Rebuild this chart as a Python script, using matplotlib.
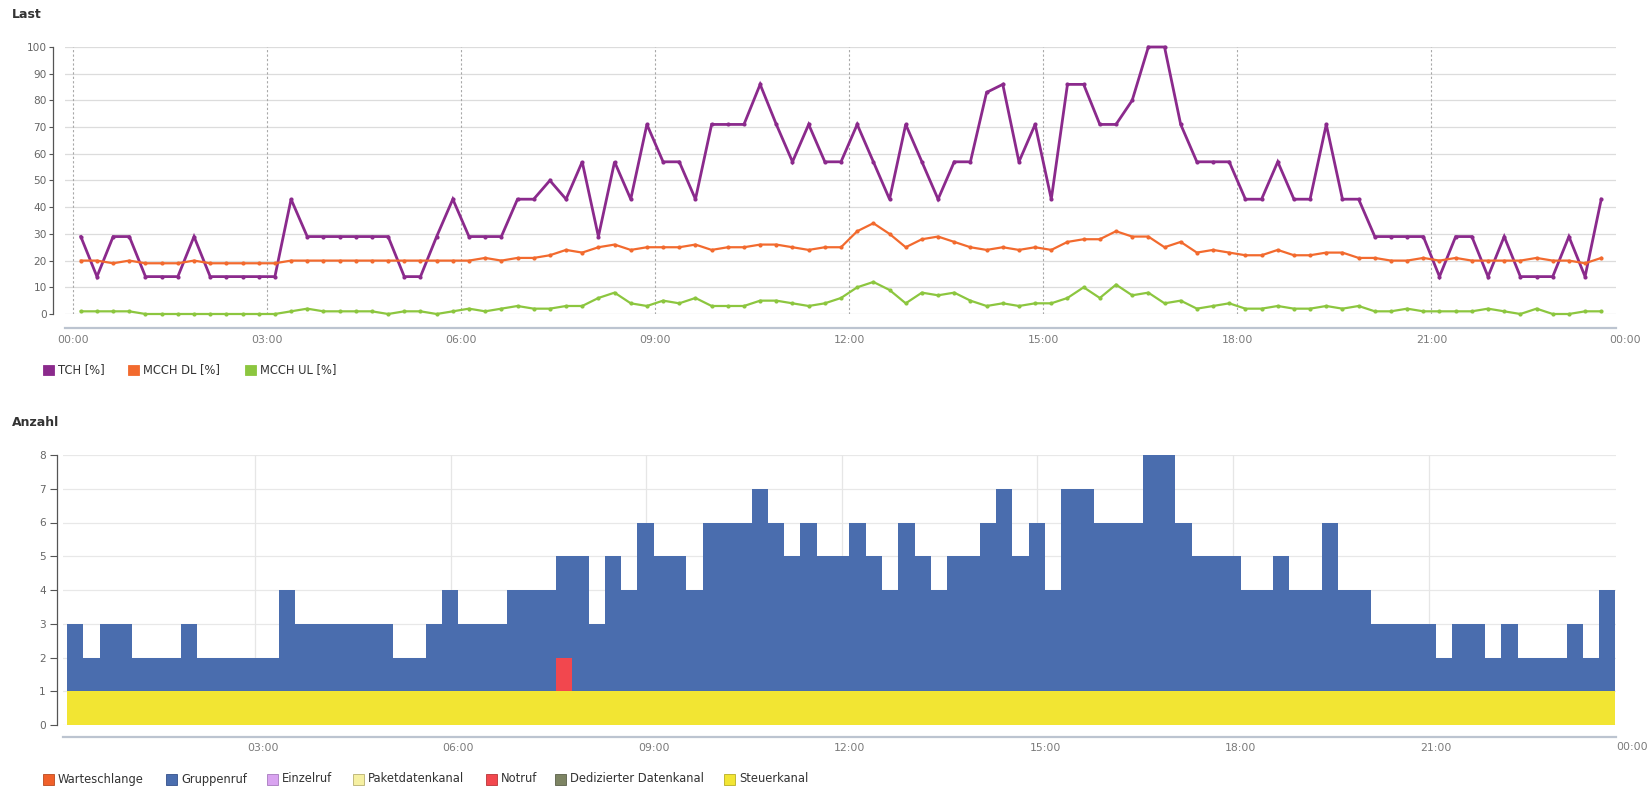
import matplotlib
matplotlib.use("Agg")
import matplotlib.pyplot as plt
import numpy as np
from matplotlib.patches import Rectangle

plt.rcParams['font.family'] = ['DejaVu Sans']

# ---------------- data ----------------
# 95 quarter-hour slots, centres at 00:07:30, 00:22:30, ... 23:37:30 (hours)
slot_hours = 0.125 + 0.25 * np.arange(95)

tch = [29, 14, 29, 29, 14, 14, 14, 29, 14, 14,
       14, 14, 14, 43, 29, 29, 29, 29, 29, 29,
       14, 14, 29, 43, 29, 29, 29, 43, 43, 50,
       43, 57, 29, 57, 43, 71, 57, 57, 43, 71,
       71, 71, 86, 71, 57, 71, 57, 57, 71, 57,
       43, 71, 57, 43, 57, 57, 83, 86, 57, 71,
       43, 86, 86, 71, 71, 80, 100, 100, 71, 57,
       57, 57, 43, 43, 57, 43, 43, 71, 43, 43,
       29, 29, 29, 29, 14, 29, 29, 14, 29, 14,
       14, 14, 29, 14, 43]

mcch_dl = [20, 20, 19, 20, 19, 19, 19, 20, 19, 19,
           19, 19, 19, 20, 20, 20, 20, 20, 20, 20,
           20, 20, 20, 20, 20, 21, 20, 21, 21, 22,
           24, 23, 25, 26, 24, 25, 25, 25, 26, 24,
           25, 25, 26, 26, 25, 24, 25, 25, 31, 34,
           30, 25, 28, 29, 27, 25, 24, 25, 24, 25,
           24, 27, 28, 28, 31, 29, 29, 25, 27, 23,
           24, 23, 22, 22, 24, 22, 22, 23, 23, 21,
           21, 20, 20, 21, 20, 21, 20, 20, 20, 20,
           21, 20, 20, 19, 21]

mcch_ul = [1, 1, 1, 1, 0, 0, 0, 0, 0, 0,
           0, 0, 0, 1, 2, 1, 1, 1, 1, 0,
           1, 1, 0, 1, 2, 1, 2, 3, 2, 2,
           3, 3, 6, 8, 4, 3, 5, 4, 6, 3,
           3, 3, 5, 5, 4, 3, 4, 6, 10, 12,
           9, 4, 8, 7, 8, 5, 3, 4, 3, 4,
           4, 6, 10, 6, 11, 7, 8, 4, 5, 2,
           3, 4, 2, 2, 3, 2, 2, 3, 2, 3,
           1, 1, 2, 1, 1, 1, 1, 2, 1, 0,
           2, 0, 0, 1, 1]

steuerkanal = [1, 1, 1, 1, 1, 1, 1, 1, 1, 1,
               1, 1, 1, 1, 1, 1, 1, 1, 1, 1,
               1, 1, 1, 1, 1, 1, 1, 1, 1, 1,
               1, 1, 1, 1, 1, 1, 1, 1, 1, 1,
               1, 1, 1, 1, 1, 1, 1, 1, 1, 1,
               1, 1, 1, 1, 1, 1, 1, 1, 1, 1,
               1, 1, 1, 1, 1, 1, 1, 1, 1, 1,
               1, 1, 1, 1, 1, 1, 1, 1, 1, 1,
               1, 1, 1, 1, 1, 1, 1, 1, 1, 1,
               1, 1, 1, 1, 1]

notruf = [0, 0, 0, 0, 0, 0, 0, 0, 0, 0,
          0, 0, 0, 0, 0, 0, 0, 0, 0, 0,
          0, 0, 0, 0, 0, 0, 0, 0, 0, 0,
          1, 0, 0, 0, 0, 0, 0, 0, 0, 0,
          0, 0, 0, 0, 0, 0, 0, 0, 0, 0,
          0, 0, 0, 0, 0, 0, 0, 0, 0, 0,
          0, 0, 0, 0, 0, 0, 0, 0, 0, 0,
          0, 0, 0, 0, 0, 0, 0, 0, 0, 0,
          0, 0, 0, 0, 0, 0, 0, 0, 0, 0,
          0, 0, 0, 0, 0]

gruppenruf = [2, 1, 2, 2, 1, 1, 1, 2, 1, 1,
              1, 1, 1, 3, 2, 2, 2, 2, 2, 2,
              1, 1, 2, 3, 2, 2, 2, 3, 3, 3,
              3, 4, 2, 4, 3, 5, 4, 4, 3, 5,
              5, 5, 6, 5, 4, 5, 4, 4, 5, 4,
              3, 5, 4, 3, 4, 4, 5, 6, 4, 5,
              3, 6, 6, 5, 5, 5, 7, 7, 5, 4,
              4, 4, 3, 3, 4, 3, 3, 5, 3, 3,
              2, 2, 2, 2, 1, 2, 2, 1, 2, 1,
              1, 1, 2, 1, 3]

x_tick_hours = [0, 3, 6, 9, 12, 15, 18, 21]
x_tick_labels = ["00:00", "03:00", "06:00", "09:00", "12:00", "15:00", "18:00", "21:00"]
end_label = "00:00"

line_series = ["TCH [%]", "MCCH DL [%]", "MCCH UL [%]"]
line_colors = ["#8B2A8C", "#F26A2E", "#8CC63F"]

bar_series = ["Warteschlange", "Gruppenruf", "Einzelruf", "Paketdatenkanal",
              "Notruf", "Dedizierter Datenkanal", "Steuerkanal"]
bar_colors = ["#F0602A", "#4A6DAE", "#D9A3F0", "#F6F0A2",
              "#F2474E", "#7D8463", "#F2E533"]
bar_edges = ["#B84A20", "#34508A", "#A67ABD", "#B8B070",
             "#B83438", "#5A604A", "#B8AE24"]

# ---------------- layout ----------------
W, H = 1649, 792
fig = plt.figure(figsize=(W / 100, H / 100), dpi=100)
fig.patch.set_facecolor("white")

PX = 0.72  # points per pixel at dpi 100

ax1 = fig.add_axes([65 / W, 1 - 314 / H, (1616 - 65) / W, (314 - 47) / H])
ax2 = fig.add_axes([63 / W, 1 - 725 / H, (1616 - 63) / W, (725 - 455) / H])

# ---------- top chart ----------
ax1.set_xlim(-0.119, 23.853)
ax1.set_ylim(0, 100)
for yv in range(0, 101, 10):
    ax1.axhline(yv, color="#dcdcdc", lw=0.9, zorder=0)
for xv in x_tick_hours:
    ax1.axvline(xv, color="#a8a8a8", lw=0.8, ls=(0, (2, 2)), zorder=0)

for vals, col, lw in zip([tch, mcch_dl, mcch_ul], line_colors, [2.0, 1.6, 1.6]):
    ax1.plot(slot_hours, vals, color=col, lw=lw, marker="o", ms=3.0, mew=0,
             clip_on=False, zorder=3, solid_joinstyle="miter")

ax1.set_yticks(range(0, 101, 10))
ax1.set_xticks(x_tick_hours)
ax1.set_xticklabels(x_tick_labels)
for s in ["top", "right"]:
    ax1.spines[s].set_visible(False)
ax1.spines["left"].set_position(("outward", 12 * PX))
ax1.spines["left"].set_bounds(0, 100)
ax1.spines["left"].set_color("#555555")
ax1.spines["left"].set_linewidth(0.9)
ax1.spines["bottom"].set_position(("outward", 14 * PX))
ax1.spines["bottom"].set_color("#bcc4d0")
ax1.spines["bottom"].set_linewidth(1.6)
ax1.tick_params(axis="y", length=3, width=0.8, color="#555555", pad=1.5,
                labelsize=7.6, labelcolor="#666666")
ax1.tick_params(axis="x", length=0, pad=5, labelsize=7.8, labelcolor="#7a7a7a")
ax1.annotate(end_label, xy=(24, 0), xycoords=("data", "axes fraction"),
             xytext=(0, -(14 + 7) * PX), textcoords="offset points",
             ha="center", va="top", fontsize=7.8, color="#7a7a7a",
             annotation_clip=False)

# ---------- bottom chart ----------
ax2.set_xlim(-0.061, 23.758)
ax2.set_ylim(0, 8)
for yv in range(0, 9):
    ax2.axhline(yv, color="#e8e8e8", lw=0.9, zorder=0)
for xv in x_tick_hours[1:]:
    ax2.axvline(xv - 0.115, color="#e6e6e6", lw=0.9, zorder=0)

zero = [0] * 95
stack_order = [  # bottom to top
    ("Steuerkanal", steuerkanal),
    ("Dedizierter Datenkanal", zero),
    ("Notruf", notruf),
    ("Paketdatenkanal", zero),
    ("Einzelruf", zero),
    ("Gruppenruf", gruppenruf),
    ("Warteschlange", zero),
]
bottom = np.zeros(95)
for name, vals in stack_order:
    col = bar_colors[bar_series.index(name)]
    v = np.array(vals, dtype=float)
    if v.sum() > 0:
        ax2.bar(slot_hours, v, width=0.25, bottom=bottom, color=col,
                linewidth=0, zorder=2)
    bottom = bottom + v

ax2.set_yticks(range(0, 9))
ax2.set_xticks(x_tick_hours[1:])
ax2.set_xticklabels(x_tick_labels[1:])
for s in ["top", "right"]:
    ax2.spines[s].set_visible(False)
ax2.spines["left"].set_position(("outward", 6 * PX))
ax2.spines["left"].set_bounds(0, 8)
ax2.spines["left"].set_color("#555555")
ax2.spines["left"].set_linewidth(0.9)
ax2.spines["bottom"].set_position(("outward", 12 * PX))
ax2.spines["bottom"].set_color("#bcc4d0")
ax2.spines["bottom"].set_linewidth(1.6)
ax2.tick_params(axis="y", length=5, width=0.8, color="#555555", pad=3,
                labelsize=7.6, labelcolor="#666666")
ax2.tick_params(axis="x", length=0, pad=4, labelsize=7.8, labelcolor="#7a7a7a")
ax2.annotate(end_label, xy=(24, 0), xycoords=("data", "axes fraction"),
             xytext=(0, -(12 + 5) * PX), textcoords="offset points",
             ha="center", va="top", fontsize=7.8, color="#7a7a7a",
             annotation_clip=False)

# ---------- titles ----------
fig.text(12 / W, 1 - 15 / H, "Last", fontsize=9, fontweight="bold",
         color="#333333", ha="left", va="center")
fig.text(12 / W, 1 - 423 / H, "Anzahl", fontsize=9, fontweight="bold",
         color="#333333", ha="left", va="center")

# ---------- legends ----------
def legend_item(x_sq, y_c, color, edge, label):
    s = 11
    fig.add_artist(Rectangle((x_sq / W, 1 - (y_c + s / 2) / H), s / W, s / H,
                             transform=fig.transFigure, facecolor=color,
                             edgecolor=edge, linewidth=0.6))
    fig.text((x_sq + s + 4) / W, 1 - y_c / H, label, fontsize=8.3,
             color="#333333", ha="left", va="center")

top_leg_x = [43, 128, 245]
for x, col, lab in zip(top_leg_x, line_colors, line_series):
    legend_item(x, 370, col, col, lab)

bot_leg_x = [43, 166, 267, 353, 486, 555, 724]
for x, col, ed, lab in zip(bot_leg_x, bar_colors, bar_edges, bar_series):
    legend_item(x, 779, col, ed, lab)

fig.savefig("out.png", dpi=100)
